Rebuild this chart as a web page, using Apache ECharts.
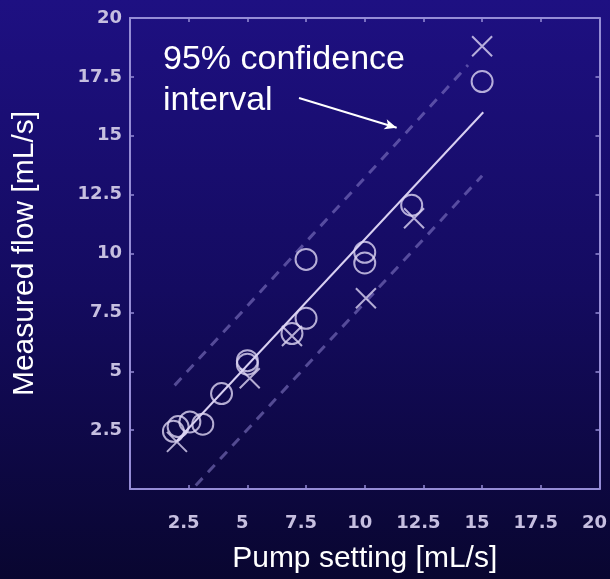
<!DOCTYPE html>
<html>
<head>
<meta charset="utf-8">
<title>Pump calibration</title>
<script src="https://cdn.jsdelivr.net/npm/echarts@6/dist/echarts.min.js"></script>
<style>
  html, body { margin: 0; padding: 0; background: #0a0733; }
  #chart { width: 610px; height: 579px; }
</style>
</head>
<body>
<div id="chart"></div>
<script>
// Tick values shown on both axes
const xTickLabels = [2.5, 5, 7.5, 10, 12.5, 15, 17.5, 20];
const yTickLabels = [2.5, 5, 7.5, 10, 12.5, 15, 17.5, 20];

// Measurements, run A (circles): [pump setting, measured flow]
const runA = [
  [15.0, 17.3],
  [12.0, 12.05],
  [10.0, 10.05],
  [10.0, 9.6],
  [7.5, 9.75],
  [7.5, 7.25],
  [6.9, 6.6],
  [5.0, 5.45],
  [5.0, 5.3],
  [3.9, 4.05],
  [3.1, 2.75],
  [2.55, 2.85],
  [2.05, 2.65],
  [1.85, 2.45]
];

// Measurements, run B (crosses)
const runB = [
  [15.0, 18.8],
  [12.1, 11.5],
  [10.05, 8.1],
  [6.9, 6.5],
  [5.1, 4.7],
  [2.0, 2.0]
];

// Regression line and 95% band end points
const fitLine = [[2.0, 2.05], [15.05, 16.0]];
const upperBand = [[1.9, 4.4], [14.4, 18.0]];
const lowerBand = [[2.8, 0.15], [15.0, 13.3]];

// Annotation arrow (data coordinates)
const arrowFrom = [7.2, 16.6];
const arrowTo = [11.36, 15.34];

const frameColor = '#958cd6';
const markColor = '#ddd6f4';
const tickFont = { fontFamily: 'DejaVu Sans', fontWeight: 'bold', fontSize: 18, color: '#c6bfe0' };

const chart = echarts.init(document.getElementById('chart'));

function frameAxis(extra) {
  return Object.assign({
    type: 'value',
    min: 0,
    max: 20,
    interval: 2.5,
    axisLine: { show: true, onZero: false, lineStyle: { color: frameColor, width: 2 } },
    axisTick: { show: true, inside: true, length: 4, lineStyle: { color: frameColor, width: 1.5 } },
    splitLine: { show: false },
    axisLabel: { show: false }
  }, extra);
}

const labelFormatter = (ticks) => (v) => (ticks.indexOf(v) >= 0 ? String(v) : '');

chart.setOption({
  animation: false,
  backgroundColor: new echarts.graphic.LinearGradient(0, 0, 0, 1, [
    { offset: 0, color: '#1e1082' },
    { offset: 0.5, color: '#140b60' },
    { offset: 1, color: '#090630' }
  ]),
  grid: { left: 130, right: 8, top: 18, bottom: 89, containLabel: false },
  xAxis: [
    frameAxis({
      position: 'bottom',
      name: 'Pump setting [mL/s]',
      nameLocation: 'middle',
      nameGap: 55,
      nameTextStyle: { fontFamily: 'Liberation Sans', fontSize: 30, color: '#ffffff' },
      axisLabel: Object.assign({ show: true, margin: 25, padding: [0, 10, 0, 0], formatter: labelFormatter(xTickLabels) }, tickFont)
    }),
    frameAxis({ position: 'top' })
  ],
  yAxis: [
    frameAxis({
      position: 'left',
      name: 'Measured flow [mL/s]',
      nameLocation: 'middle',
      nameGap: 90,
      nameTextStyle: { fontFamily: 'Liberation Sans', fontSize: 30, color: '#ffffff' },
      axisLabel: Object.assign({ show: true, margin: 8, formatter: labelFormatter(yTickLabels) }, tickFont)
    }),
    frameAxis({ position: 'right' })
  ],
  graphic: [
    {
      type: 'text',
      left: 163,
      top: 39,
      style: {
        text: '95% confidence\ninterval',
        font: '34px "Liberation Sans"',
        fill: '#ffffff',
        lineHeight: 41
      }
    }
  ],
  series: [
    {
      name: 'Upper 95%',
      type: 'line',
      data: upperBand,
      symbol: 'none',
      silent: true,
      lineStyle: { color: 'rgba(140,130,205,0.55)', width: 3, type: [10, 8] },
      z: 1
    },
    {
      name: 'Lower 95%',
      type: 'line',
      data: lowerBand,
      symbol: 'none',
      silent: true,
      lineStyle: { color: 'rgba(140,130,205,0.55)', width: 3, type: [10, 8] },
      z: 1
    },
    {
      name: 'Fit',
      type: 'line',
      data: fitLine,
      symbol: 'none',
      silent: true,
      lineStyle: { color: '#d8d0f2', width: 2 },
      z: 2,
      markLine: {
        silent: true,
        symbol: ['none', 'arrow'],
        symbolSize: [8, 12],
        label: { show: false },
        lineStyle: { color: '#ffffff', width: 2, type: 'solid' },
        data: [[{ coord: arrowFrom }, { coord: arrowTo }]]
      }
    },
    {
      name: 'Run A',
      type: 'scatter',
      data: runA,
      symbol: 'circle',
      symbolSize: 21,
      itemStyle: { color: 'rgba(0,0,0,0)', borderColor: markColor, borderWidth: 2 },
      z: 3
    },
    {
      name: 'Run B',
      type: 'scatter',
      data: runB,
      symbol: 'path://M0,0L20,20M20,0L0,20',
      symbolSize: 20,
      itemStyle: { color: 'none', borderColor: markColor, borderWidth: 2 },
      z: 3
    }
  ]
});
</script>
</body>
</html>
